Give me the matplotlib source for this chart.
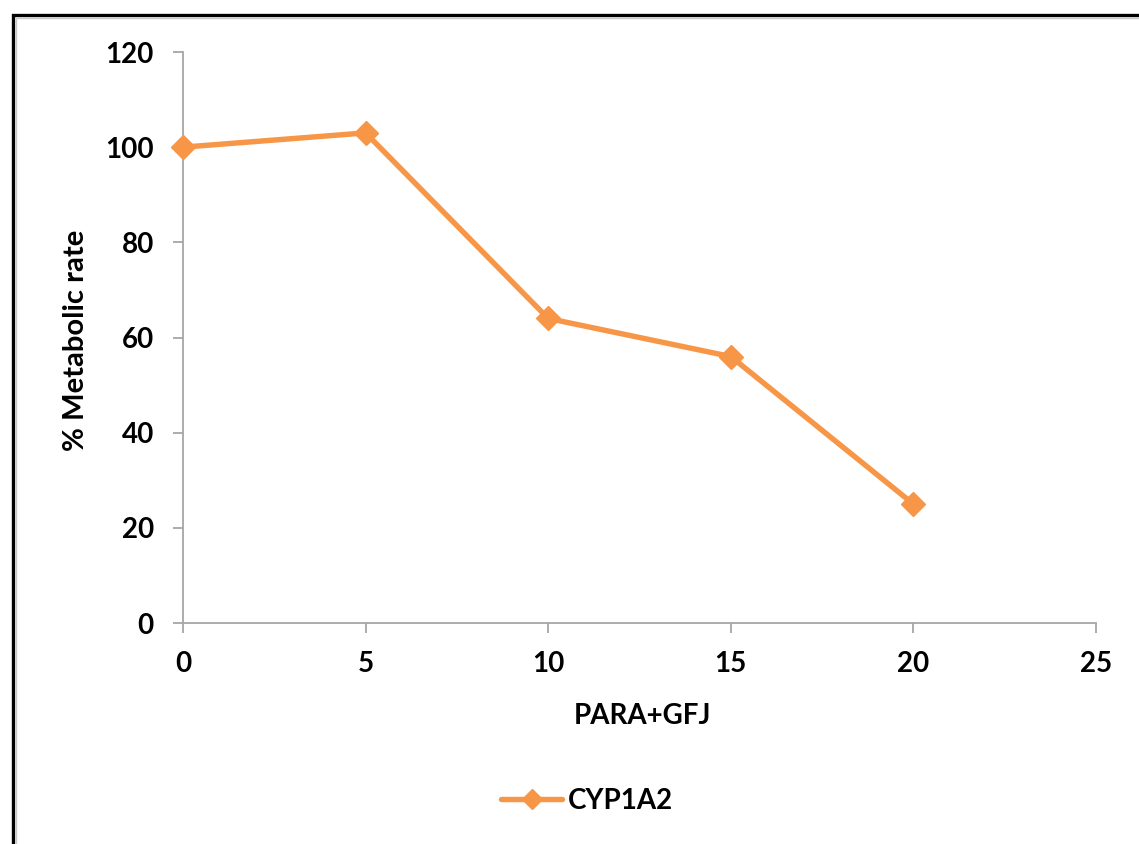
import matplotlib.pyplot as plt
from matplotlib.patches import Rectangle

# dados
dose = [0, 5, 10, 15, 20]
taxa_cyp1a2 = [100, 103, 64, 56, 25]
xticks = [0, 5, 10, 15, 20, 25]
yticks = [0, 20, 40, 60, 80, 100, 120]

laranja = '#F79646'
cinza = '#A6A6A6'

plt.rcParams['font.family'] = ['Lato', 'DejaVu Sans']
plt.rcParams['font.weight'] = 'bold'

fig = plt.figure(figsize=(11.39, 8.44), dpi=100)
ax = fig.add_axes([183 / 1139, 1 - 623 / 844, (1096 - 183) / 1139, (623 - 52) / 844])

ax.plot(dose, taxa_cyp1a2, color=laranja, lw=3.9, marker='D', ms=12,
        label='CYP1A2', solid_joinstyle='round', solid_capstyle='round')

ax.set_xlim(0, 25)
ax.set_ylim(0, 120)
ax.set_xticks(xticks)
ax.set_yticks(yticks)
ax.tick_params(axis='both', length=7, width=1.3, color=cinza, labelsize=20)
ax.tick_params(axis='x', pad=13)
ax.tick_params(axis='y', pad=14)
for s in ['top', 'right']:
    ax.spines[s].set_visible(False)
for s in ['left', 'bottom']:
    ax.spines[s].set_color(cinza)
    ax.spines[s].set_linewidth(1.3)
    ax.spines[s].set_zorder(0)
for l in ax.get_lines():
    l.set_clip_on(False)

fig.text(76 / 1139, 1 - 340 / 844, '% Metabolic rate', rotation=90,
         ha='center', va='center', fontsize=21, fontweight='bold')
fig.text(642 / 1139, 1 - 716 / 844, 'PARA+GFJ', ha='center', va='center',
         fontsize=20, fontweight='bold')

ax.legend(loc='center', bbox_to_anchor=(587 / 1139, 1 - 801 / 844),
          bbox_transform=fig.transFigure, frameon=False, fontsize=20,
          handlelength=2.2, handletextpad=0.2, markerscale=0.85)

# moldura
fig.patches.append(Rectangle((12.5 / 1139, -0.1), 1.2, 1 - 15.5 / 844 + 0.1,
                             transform=fig.transFigure, fill=False,
                             edgecolor='black', lw=2.4))
fig.patches.append(Rectangle((15.5 / 1139, -0.1), 1.2, 1 - 18 / 844 + 0.1,
                             transform=fig.transFigure, fill=False,
                             edgecolor='#C8C8C8', lw=1.0))

fig.savefig('out.png', dpi=100)
